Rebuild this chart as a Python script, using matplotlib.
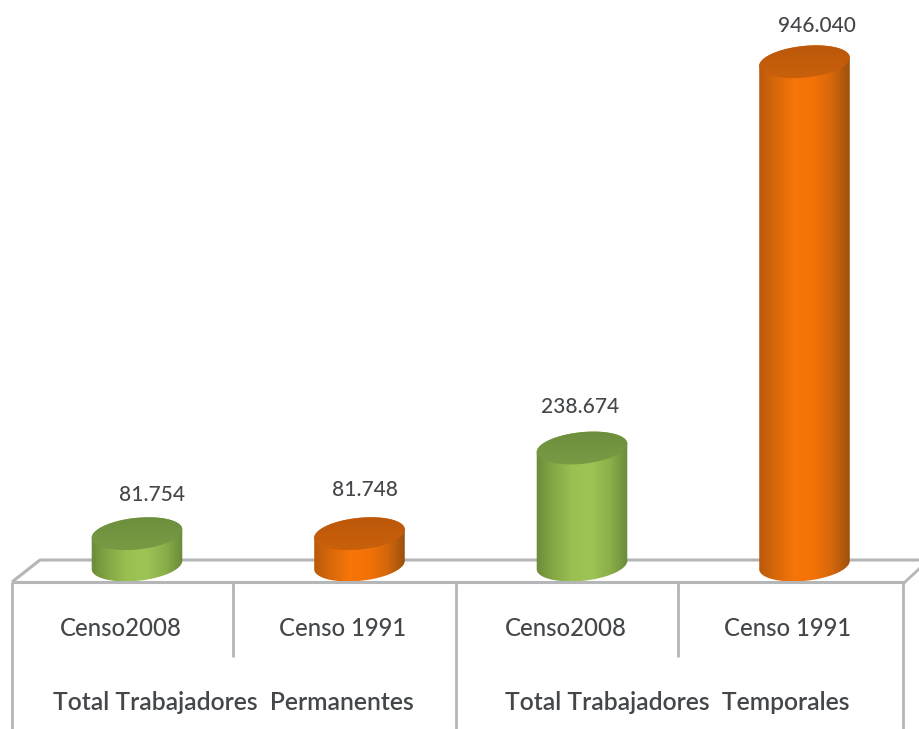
import numpy as np
import matplotlib
matplotlib.use("Agg")
import matplotlib.pyplot as plt
from matplotlib.colors import LinearSegmentedColormap
from matplotlib.patches import Polygon

plt.rcParams['font.family'] = ['Lato', 'DejaVu Sans']

censos = ['Censo2008', 'Censo 1991', 'Censo2008', 'Censo 1991']
grupos = ['Total Trabajadores  Permanentes', 'Total Trabajadores  Temporales']
valores = [81754, 81748, 238674, 946040]
etiquetas = ['81.754', '81.748', '238.674', '946.040']
# the value axis of the original does not start at zero
base = 24400

W, H = 919, 729
GRIS = '#b4b6b8'
TEXTO = '#44474a'

verde = LinearSegmentedColormap.from_list('verde', ['#6a8a38', '#85a745', '#9ac052', '#9fc456', '#8db04a', '#6b8a3a'])
naranja = LinearSegmentedColormap.from_list('naranja', ['#b9590c', '#d9690a', '#f87508', '#f37207', '#d5670b', '#98500f'])
colormaps = [verde, naranja, verde, naranja]
tapas = [('#6a8c3c', '#7c9d46'), ('#b9560a', '#cc620c'), ('#6a8c3c', '#7c9d46'), ('#b9560a', '#cc620c')]

fig = plt.figure(figsize=(W / 100, H / 100), dpi=100)

# pixel layer for the 3D drawing
ax = fig.add_axes([0, 0, 1, 1])
ax.set_xlim(0, W)
ax.set_ylim(H, 0)
ax.axis('off')

# invisible value axes, only used as the scale of the bars
esc = fig.add_axes([0, 0, 1, 1], sharex=None)
esc.set_xlim(-0.6157, 3.5146)
esc.set_ylim(-275960, 1059180)
esc.axis('off')


def a_pixel(x, v):
    px, py = esc.transData.transform((x, v))
    return px, H - py


def elipse(cx, cy, a, b, rot, t):
    x = a * np.cos(t) * np.cos(rot) - b * np.sin(t) * np.sin(rot)
    y = a * np.cos(t) * np.sin(rot) + b * np.sin(t) * np.cos(rot)
    return cx + x, cy + y


def cilindro(i, valor, cmap, tapa):
    a, b, rot = 45.5, 15.8, np.radians(-6)
    cx, y_top = a_pixel(i, valor)
    _, y_bot = a_pixel(i, base)
    t0 = np.arctan2(-b * np.sin(rot), a * np.cos(rot))
    abajo = np.linspace(t0, t0 + np.pi, 60)
    arriba = np.linspace(t0 + np.pi, t0 + 2 * np.pi, 60)
    xb, yb = elipse(cx, y_bot, a, b, rot, abajo)
    xt, yt = elipse(cx, y_top, a, b, rot, arriba)
    cuerpo = Polygon(np.column_stack([np.r_[xb, xt], np.r_[yb, yt]]), closed=True, fc='none', ec='none', zorder=3)
    ax.add_patch(cuerpo)
    grad = np.linspace(0, 1, 256).reshape(1, -1)
    im = ax.imshow(grad, cmap=cmap, aspect='auto', zorder=3, interpolation='bilinear',
                   extent=(cx - a - 1, cx + a + 1, y_bot + b + 8, y_top - b - 8))
    im.set_clip_path(cuerpo)
    # top face
    todo = np.linspace(0, 2 * np.pi, 120)
    xe, ye = elipse(cx, y_top, a, b, rot, todo)
    cara = Polygon(np.column_stack([xe, ye]), closed=True, fc='none', ec='none', zorder=4)
    ax.add_patch(cara)
    cm_tapa = LinearSegmentedColormap.from_list('tapa', [tapa[0], tapa[1]])
    im2 = ax.imshow(np.linspace(0, 1, 64).reshape(-1, 1), cmap=cm_tapa, aspect='auto', zorder=4,
                    interpolation='bilinear', extent=(cx - a - 1, cx + a + 1, y_top + b + 8, y_top - b - 8))
    im2.set_clip_path(cara)


# floor of the chart and the table under it
ax.plot([12, 40, 919], [582, 560, 560], color=GRIS, lw=2.2, zorder=1, solid_capstyle='butt')
ax.plot([905, 919], [582, 569], color=GRIS, lw=2.0, zorder=1)
ax.plot([12, 905], [582, 582], color=GRIS, lw=2.2, zorder=5, solid_capstyle='butt')
for x in [12, 456, 903]:
    ax.plot([x, x], [582, H], color=GRIS, lw=2.0, zorder=1, solid_capstyle='butt')
for x in [233, 678]:
    ax.plot([x, x], [582, 657], color=GRIS, lw=2.0, zorder=1, solid_capstyle='butt')

for i, v in enumerate(valores):
    cilindro(i, v, colormaps[i], tapas[i])

ax.set_xlim(0, W)
ax.set_ylim(H, 0)

# value labels sit a bit off the bar tops in the original
desvio = [(15, -39), (6, -44), (-2, -41), (12, -36)]
for i, (v, txt) in enumerate(zip(valores, etiquetas)):
    px, py = a_pixel(i, v)
    ax.text(px + desvio[i][0], py + desvio[i][1], txt, ha='center', va='center',
            fontsize=15, color=TEXTO, fontweight='medium', zorder=6)

for i, txt in enumerate(censos):
    ax.text(a_pixel(i, base)[0] - 16.5, 628, txt, ha='center', va='center',
            fontsize=17.2, color=TEXTO, fontweight='medium', zorder=6)
for x, txt in zip([233, 677], grupos):
    ax.text(x, 702, txt, ha='center', va='center', fontsize=17.7, color=TEXTO,
            fontweight='semibold', zorder=6)

fig.savefig('out.png', dpi=100)
